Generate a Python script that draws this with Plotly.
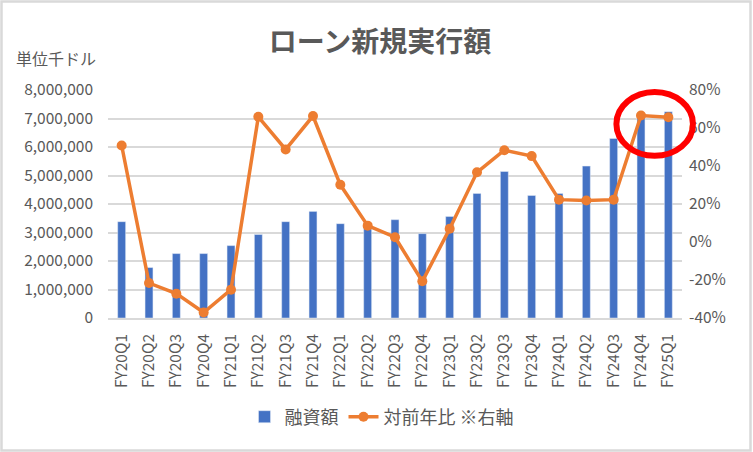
import plotly.graph_objects as go

quarters = ["FY20Q1", "FY20Q2", "FY20Q3", "FY20Q4",
            "FY21Q1", "FY21Q2", "FY21Q3", "FY21Q4",
            "FY22Q1", "FY22Q2", "FY22Q3", "FY22Q4",
            "FY23Q1", "FY23Q2", "FY23Q3", "FY23Q4",
            "FY24Q1", "FY24Q2", "FY24Q3", "FY24Q4",
            "FY25Q1"]
# 融資額 (千ドル)
loan_amount = [3380000, 1770000, 2260000, 2260000,
               2540000, 2930000, 3380000, 3740000,
               3310000, 3220000, 3450000, 2960000,
               3560000, 4370000, 5140000, 4300000,
               4370000, 5330000, 6300000, 7050000,
               7240000]
# 対前年比 (%)
yoy_pct = [50.8, -21.6, -27.2, -37.1,
           -25.1, 65.9, 48.7, 66.3,
           30.1, 8.6, 2.5, -20.7,
           7.0, 36.7, 48.3, 45.2,
           22.3, 21.8, 22.3, 66.6,
           65.7]
left_ticks = list(range(0, 8000001, 1000000))
right_ticks = list(range(-40, 81, 20))
y2_range = [-40, 80]

font = "Noto Sans CJK JP"
gray = "#595959"

fig = go.Figure()
fig.add_trace(go.Bar(
    x=quarters, y=loan_amount, name="融資額",
    marker_color="#4472C4", width=0.29,
))
fig.add_trace(go.Scatter(
    x=quarters, y=yoy_pct, name="対前年比 ※右軸", yaxis="y2",
    mode="lines+markers",
    line=dict(color="#ED7D31", width=3.5),
    marker=dict(color="#ED7D31", size=10),
))

# red ring around the last two points (paper coords so it isn't clipped)
n = len(quarters)
i0, i1 = n - 2, n - 1
cx = ((i0 + i1) / 2 + 0.5) / n
cy = ((yoy_pct[i0] + yoy_pct[i1]) / 2 - 4 - y2_range[0]) / (y2_range[1] - y2_range[0])
fig.add_shape(type="circle", xref="paper", yref="paper",
              x0=cx - 1.4 / n, x1=cx + 1.4 / n, y0=cy - 0.14, y1=cy + 0.14,
              line=dict(color="#FF0000", width=6))

W, H = 753, 452
ml, mr, mt, mb = 108, 71, 90, 134
pw, ph = W - ml - mr, H - mt - mb
fig.add_shape(type="rect", xref="paper", yref="paper",
              x0=(-ml + 1.5) / pw, x1=1 + (mr - 2.5) / pw,
              y0=(-mb + 1.5) / ph, y1=1 + (mt - 1.5) / ph,
              line=dict(color="#D9D9D9", width=2.5), layer="below")

fig.update_layout(
    width=W, height=H,
    margin=dict(l=ml, r=mr, t=mt, b=mb, autoexpand=False),
    paper_bgcolor="white", plot_bgcolor="white",
    font=dict(family=font, color=gray, size=14),
    title=dict(text="<b>ローン新規実行額</b>", x=380 / W, xref="container",
               xanchor="center", y=1 - 42 / H, yanchor="middle",
               font=dict(size=28, color=gray, family=font)),
    showlegend=True,
    legend=dict(orientation="h", x=(382 - ml) / pw, xanchor="center",
                y=-(417 - 318) / ph, yanchor="middle",
                font=dict(size=18, color=gray, family=font)),
    bargap=0.7,
    xaxis=dict(type="category", tickangle=-90, showgrid=False,
               range=[-0.5, n - 0.5],
               showline=True, linecolor="#D9D9D9", linewidth=1.5,
               ticks="", automargin=False, ticklabelstandoff=8,
               tickfont=dict(size=15.5, color=gray)),
    yaxis=dict(range=[0, 8000000], tickvals=left_ticks,
               tickformat=",d", showgrid=True, gridcolor="#D9D9D9",
               gridwidth=1.5, zeroline=False, ticks="", automargin=False,
               ticklabelstandoff=14,
               tickfont=dict(size=15.5, color=gray)),
    yaxis2=dict(range=y2_range, tickvals=right_ticks,
                ticktext=[f"{v}%" for v in right_ticks],
                overlaying="y", side="right", automargin=False,
                showgrid=False, zeroline=False, ticks="",
                ticklabelstandoff=6,
                tickfont=dict(size=15.5, color=gray)),
)
fig.add_annotation(text="単位千ドル", xref="paper", yref="paper",
                   x=(14 - ml) / pw, xanchor="left",
                   y=1 + (mt - 58) / ph, yanchor="middle",
                   showarrow=False, font=dict(size=16, color=gray))

fig.write_html("out.html", config={"displayModeBar": False},
               post_script="document.body.style.margin='0';")
